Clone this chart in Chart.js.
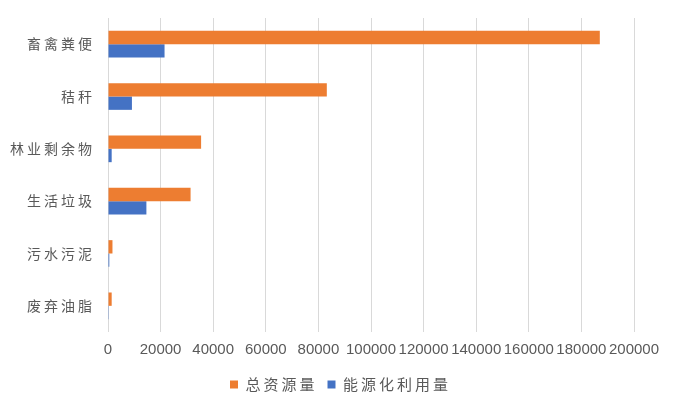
<!DOCTYPE html>
<html>
<head>
<meta charset="utf-8">
<script src="https://cdn.jsdelivr.net/npm/chart.js@4/dist/chart.umd.min.js"></script>
<style>
  html, body { margin: 0; padding: 0; background: #fff; }
  #wrap { width: 681px; height: 412px; position: relative; }
</style>
</head>
<body>
<div id="wrap"><canvas id="tela"></canvas></div>
<script>
const categorias = ['畜禽粪便', '秸秆', '林业剩余物', '生活垃圾', '污水污泥', '废弃油脂'];
const totalRecurso = [187000, 83200, 35400, 31400, 1700, 1400];
const usoEnergia = [21500, 9100, 1400, 14600, 500, 300];
const ticksX = [0, 20000, 40000, 60000, 80000, 100000, 120000, 140000, 160000, 180000, 200000];

const corLaranja = '#ED7D31';
const corAzul = '#4472C4';
const corTexto = '#595959';

// espaco entre os caracteres chineses, como no original
function comEspaco(obj, nome, esp) {
  const orig = obj[nome];
  if (!orig || orig._espacado) return;
  const novo = function (...args) {
    const c = this.ctx;
    const antes = c.letterSpacing;
    c.letterSpacing = esp;
    const r = orig.apply(this, args);
    c.letterSpacing = antes || '0px';
    return r;
  };
  novo._espacado = true;
  obj[nome] = novo;
}

const pluginEspaco = {
  id: 'espaco',
  afterInit(chart) {
    if (chart.legend) {
      comEspaco(chart.legend, 'fit', '3px');
      comEspaco(chart.legend, 'draw', '3px');
    }
  },
  afterLayout(chart) {
    comEspaco(chart.scales.y, 'drawLabels', '3px');
    // legenda centrada na largura toda
    const lg = chart.legend;
    if (lg) {
      lg.left = 0;
      lg.right = chart.width;
      lg.width = chart.width;
    }
  }
};

const ctx = document.getElementById('tela');
new Chart(ctx, {
  type: 'bar',
  data: {
    labels: categorias,
    datasets: [
      { label: '总资源量', data: totalRecurso, backgroundColor: corLaranja },
      { label: '能源化利用量', data: usoEnergia, backgroundColor: corAzul }
    ]
  },
  plugins: [pluginEspaco],
  options: {
    indexAxis: 'y',
    responsive: true,
    maintainAspectRatio: false,
    animation: false,
    layout: { padding: { top: 18, right: 47, bottom: 10, left: 0 } },
    datasets: {
      bar: { categoryPercentage: 0.51, barPercentage: 1.0 }
    },
    scales: {
      x: {
        min: 0,
        max: 200000,
        afterBuildTicks: (eixo) => { eixo.ticks = ticksX.map(v => ({ value: v })); },
        grid: { color: '#D9D9D9', drawTicks: false },
        border: { display: false },
        ticks: {
          autoSkip: false,
          maxRotation: 0,
          padding: 9,
          color: corTexto,
          font: { family: 'Liberation Sans', size: 15 },
          callback: (v) => String(v)
        },
        afterFit: (eixo) => { eixo.height = 35; }
      },
      y: {
        grid: { display: false, drawTicks: false },
        border: { display: false },
        ticks: {
          padding: 13,
          color: corTexto,
          font: { family: '"Noto Sans CJK SC"', size: 14 }
        },
        afterFit: (eixo) => {
          eixo.width = 108;
          eixo.paddingTop = 0;
          eixo.paddingBottom = 0;
        }
      }
    },
    plugins: {
      legend: {
        position: 'bottom',
        labels: {
          boxWidth: 8,
          boxHeight: 8,
          padding: 10,
          color: corTexto,
          font: { family: '"Noto Sans CJK SC"', size: 15 }
        }
      },
      tooltip: { enabled: false }
    }
  }
});
</script>
</body>
</html>
